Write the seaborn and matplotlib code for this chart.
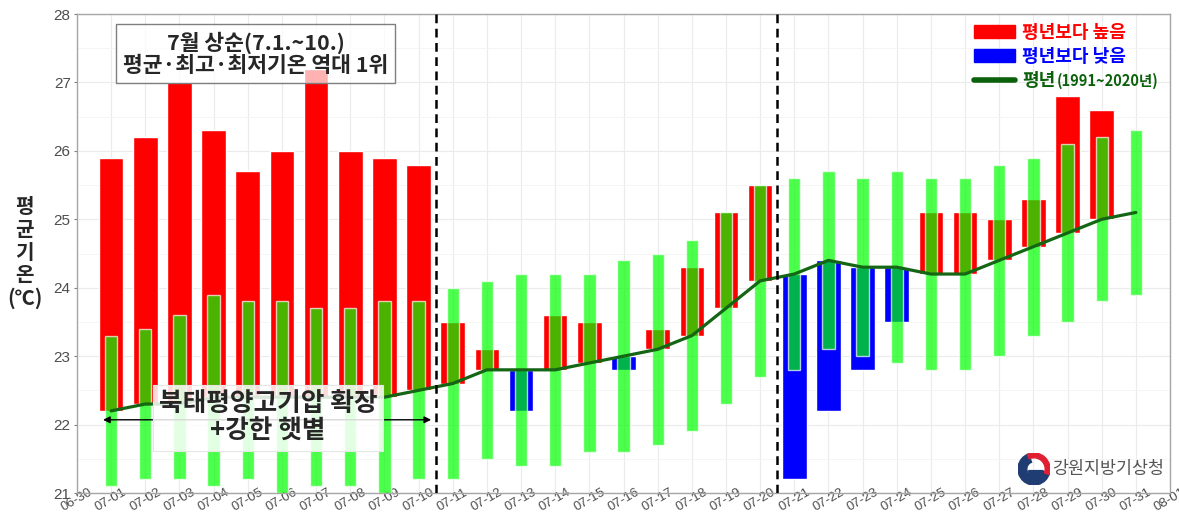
import numpy as np
import pandas as pd
import matplotlib
matplotlib.use('Agg')
import matplotlib.pyplot as plt
import seaborn as sns
from matplotlib.patches import Patch, Wedge
from matplotlib.lines import Line2D

# daily values, 7/1 ~ 7/31
days = ['07-%02d' % d for d in range(1, 32)]
tick_labels = ['06-30'] + days + ['08-01']

normal = [22.2, 22.3, 22.3, 22.4, 22.4, 22.4, 22.4, 22.4, 22.4, 22.5,
          22.6, 22.8, 22.8, 22.8, 22.9, 23.0, 23.1, 23.3, 23.7, 24.1,
          24.2, 24.4, 24.3, 24.3, 24.2, 24.2, 24.4, 24.6, 24.8, 25.0, 25.1]
mean_temp = [25.9, 26.2, 27.0, 26.3, 25.7, 26.0, 27.2, 26.0, 25.9, 25.8,
             23.5, 23.1, 22.2, 23.6, 23.5, 22.8, 23.4, 24.3, 25.1, 25.5,
             21.2, 22.2, 22.8, 23.5, 25.1, 25.1, 25.0, 25.3, 26.8, 26.6, np.nan]
range_low = [21.1, 21.2, 21.2, 21.1, 21.2, 21.0, 21.1, 21.1, 21.0, 21.2,
             21.2, 21.5, 21.4, 21.4, 21.6, 21.6, 21.7, 21.9, 22.3, 22.7,
             22.8, 23.1, 23.0, 22.9, 22.8, 22.8, 23.0, 23.3, 23.5, 23.8, 23.9]
range_high = [23.3, 23.4, 23.6, 23.9, 23.8, 23.8, 23.7, 23.7, 23.8, 23.8,
              24.0, 24.1, 24.2, 24.2, 24.2, 24.4, 24.5, 24.7, 25.1, 25.5,
              25.6, 25.7, 25.6, 25.7, 25.6, 25.6, 25.8, 25.9, 26.1, 26.2, 26.3]

df = pd.DataFrame({'day': days, 'normal': normal, 'mean': mean_temp,
                   'low': range_low, 'high': range_high})
df['pos'] = np.arange(1, len(df) + 1)
df['anom'] = df['mean'] - df['normal']

sns.set_theme(style='whitegrid')
plt.rcParams['font.family'] = ['Noto Sans CJK KR', 'DejaVu Sans']

fig = plt.figure(figsize=(11.79, 5.15), dpi=100)
ax = fig.add_axes([0.0653, 0.0427, 0.9271, 0.9301])

# anomaly bars (normal -> observed)
obs = df.dropna(subset=['mean'])
cols = np.where(obs['anom'] >= 0, '#FF0000', '#0000FF')
ax.bar(obs['pos'], obs['anom'], bottom=obs['normal'], width=0.72,
       color=cols, zorder=2)

# normal range bars
ax.bar(df['pos'], df['high'] - df['low'], bottom=df['low'], width=0.36,
       color='#00FF00', alpha=0.7, zorder=3)

# normal line
sns.lineplot(data=df, x='pos', y='normal', color='#146614', lw=2.3,
             ax=ax, zorder=4)

for xv in [10.5, 20.5]:
    ax.axvline(xv, color='black', lw=1.8, ls=(0, (3.5, 2.2)), zorder=5)

ax.set_xlim(0, 32)
ax.set_ylim(21, 28)
ax.set_xticks(np.arange(len(tick_labels)))
ax.set_xticklabels(tick_labels, rotation=30, ha='center', va='center',
                   rotation_mode='anchor', fontsize=9.5, color='#4D4D4D',
                   family='Liberation Sans')
ax.set_yticks(np.arange(21, 29))
ax.set_yticklabels([str(v) for v in range(21, 29)], fontsize=11,
                   color='#4D4D4D', family='Liberation Sans')
ax.set_yticks(np.arange(21.5, 28, 1), minor=True)
ax.tick_params(axis='both', which='major', length=2.5, width=0.8,
               color='#7F7F7F', bottom=True, left=True)
ax.tick_params(axis='x', pad=2.5)
ax.tick_params(axis='y', pad=2)
ax.grid(True, which='major', color='#EBEBEB', lw=0.8)
ax.grid(True, which='minor', axis='y', color='#F4F4F4', lw=0.6)
ax.set_axisbelow(True)
for s in ax.spines.values():
    s.set_color('#A6A6A6')
    s.set_linewidth(1.0)
ax.set_xlabel('')
ax.set_ylabel('')

fig.text(0.021, 0.51, '평\n균\n기\n온\n(℃)', ha='center', va='center',
         fontsize=14.5, weight='bold', linespacing=1.1)

# annotations
ax.text(5.24, 27.42, '7월 상순(7.1.~10.)\n평균·최고·최저기온 역대 1위',
        ha='center', va='center', fontsize=15.5, weight='bold',
        linespacing=1.08, zorder=7,
        bbox=dict(boxstyle='square,pad=0.32', fc=(1, 1, 1, 0.7),
                  ec='#7F7F7F', lw=1))
ax.annotate('', xy=(0.68, 22.07), xytext=(10.45, 22.07),
            arrowprops=dict(arrowstyle='<|-|>', color='black', lw=1,
                            mutation_scale=10), zorder=6)
ax.text(5.59, 22.1, '북태평양고기압 확장\n+강한 햇볕', ha='center', va='center',
        fontsize=18.5, weight='bold', linespacing=1.05, zorder=7,
        bbox=dict(boxstyle='square,pad=0.22', fc=(1, 1, 1, 0.85),
                  ec='#E6E6E6', lw=0.8))

# legend
handles = [Patch(color='#FF0000'), Patch(color='#0000FF'),
           Line2D([0], [0], color='#0B610B', lw=4)]
leg = ax.legend(handles, ['평년보다 높음', '평년보다 낮음', '평년'],
                loc='upper left', bbox_to_anchor=(0.812, 1.0), frameon=False,
                prop=dict(size=13, weight='bold'), handlelength=2.3,
                handleheight=0.72, handletextpad=0.4, labelspacing=0.28,
                borderaxespad=0.1)
for t, c in zip(leg.get_texts(), ['#FF0000', '#0000FF', '#0B610B']):
    t.set_color(c)

# logo
cx, cy, r = 1034 / 1179, (515 - 469) / 515, 16 / 1179
lax = fig.add_axes([cx - r, cy - r * 1179 / 515, 2 * r, 2 * r * 1179 / 515])
lax.set_xlim(-1, 1)
lax.set_ylim(-1, 1)
lax.set_aspect('equal')
lax.axis('off')
lax.add_patch(Wedge((0, 0), 1, 110, 345, width=0.55, color='#1F3C73'))
lax.add_patch(Wedge((0, 0), 1, -20, 115, width=0.3, color='#E02032'))
lax.add_patch(Wedge((0.12, -0.1), 0.45, 180, 360, color='#1F3C73'))
fig.text(1052 / 1179, (515 - 469) / 515, '강원지방기상청', ha='left',
         va='center', fontsize=12.5, color='#555555')

# small period suffix after the normal legend entry
fig.canvas.draw()
bb = leg.get_texts()[2].get_window_extent()
fig.text((bb.x1 + 1) / fig.bbox.width, (bb.y0 + bb.y1) / 2 / fig.bbox.height,
         '(1991~2020년)', ha='left', va='center', fontsize=10.5,
         weight='bold', color='#0B610B')

fig.savefig('out.png', dpi=100)
